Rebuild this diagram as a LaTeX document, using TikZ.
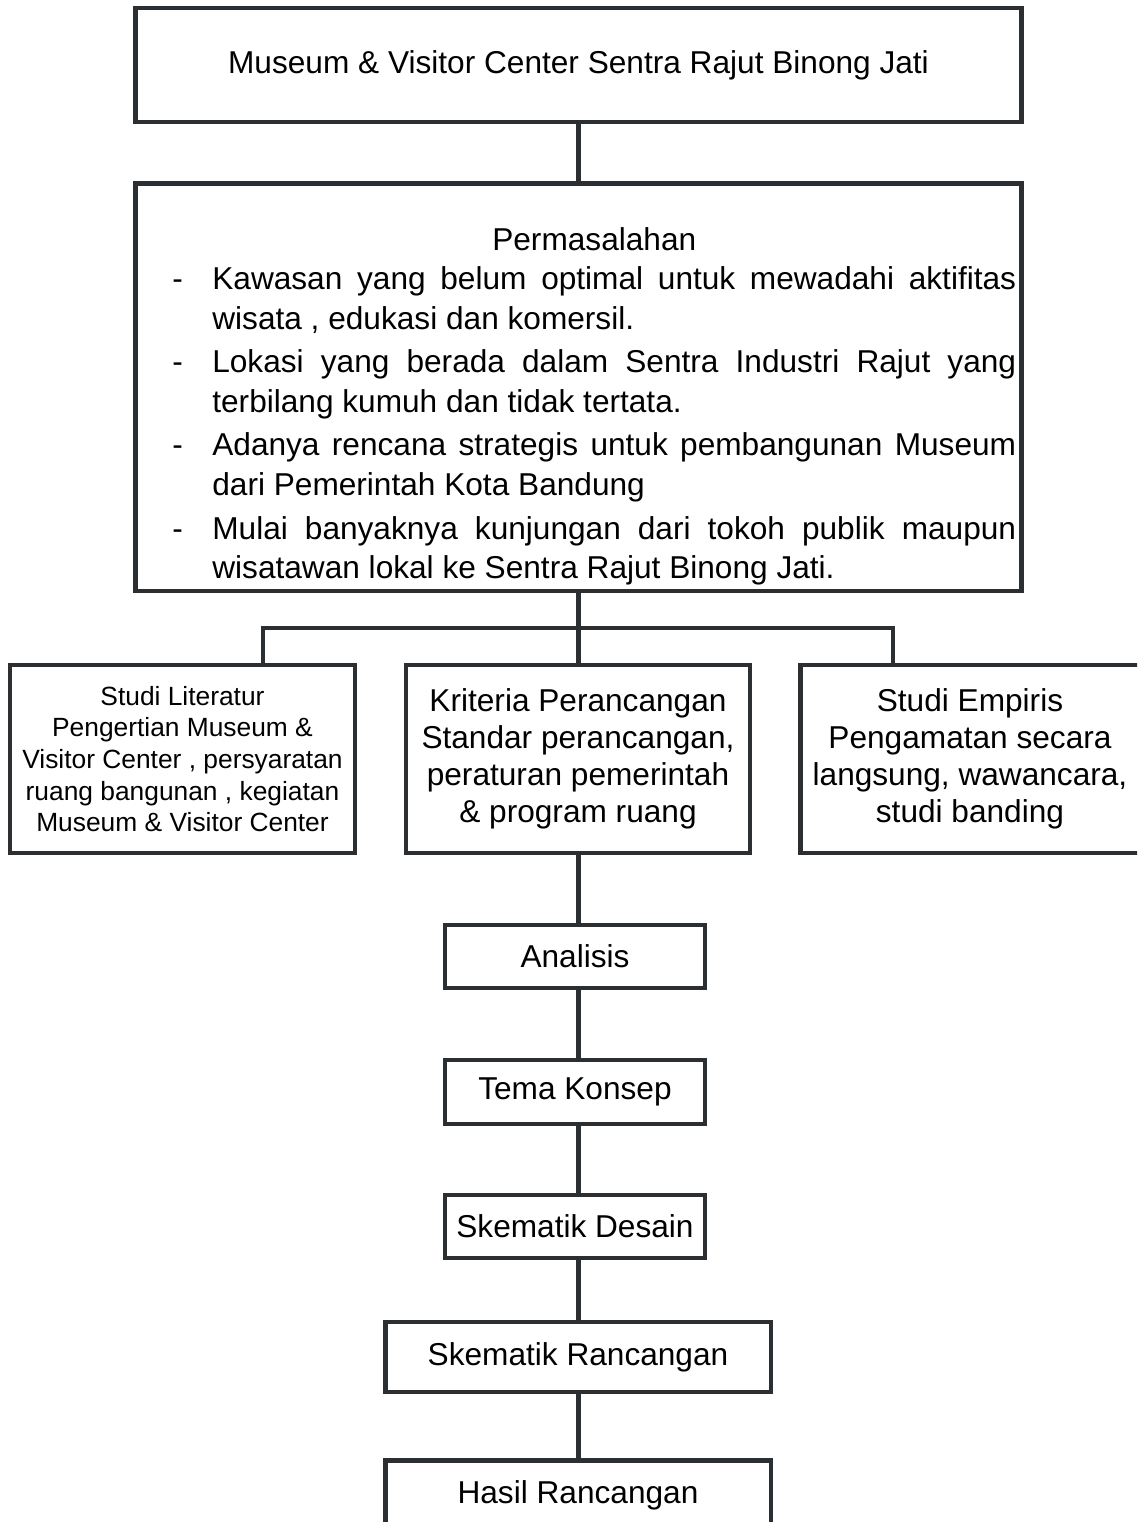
\documentclass[tikz,border=0pt]{standalone}
\usepackage{fontspec}
\setmainfont{Liberation Sans}
\definecolor{garis}{RGB}{43,47,50}
\tikzset{
    kotak/.style={draw=garis,line width=2.8pt,inner sep=0pt,font=\fontsize{18pt}{21pt}\selectfont},
    hubung/.style={draw=garis,line width=2.8pt},
}
\newcommand{\butir}{\par\hangindent=0.8cm\hangafter=1\noindent\makebox[0.8cm][l]{-}}

\begin{document}
\begin{tikzpicture}[x=0.02cm,y=-0.02cm]
                    \useasboundingbox (0,0) rectangle (1137,1522);
                    \clip (0,0) rectangle (1137,1522);
                    \node[kotak,minimum width=17.74cm,minimum height=2.28cm] (museum) at (578.5,65)
                        {Museum \& Visitor Center Sentra Rajut Binong Jati};
                    \node[kotak,minimum width=17.74cm,minimum height=8.16cm] (masalah) at (578.5,387) {};
                    \node[anchor=north west,inner sep=0pt,text width=16.88cm,align=justify,
                          font=\fontsize{18pt}{22.7pt}\selectfont] (masalahisi) at (172,227) {%
                        \setlength{\parindent}{0pt}\setlength{\parskip}{2pt}\hyphenpenalty=10000%
                        \centerline{Permasalahan}\vspace{-2.5pt}
                        \butir Kawasan yang belum optimal untuk mewadahi aktifitas wisata , edukasi dan komersil.
                        \butir Lokasi yang berada dalam Sentra Industri Rajut yang terbilang kumuh dan tidak tertata.
                        \butir Adanya rencana strategis untuk pembangunan Museum dari Pemerintah Kota Bandung
                        \butir Mulai banyaknya kunjungan dari tokoh publik maupun wisatawan lokal ke Sentra Rajut Binong Jati.\par};
                    \node[kotak,align=center,font=\fontsize{15pt}{18pt}\selectfont,
                          minimum width=6.9cm,minimum height=3.76cm] (literatur) at (182.5,759)
                        {Studi Literatur\\Pengertian Museum \&\\Visitor Center , persyaratan\\ruang bangunan , kegiatan\\Museum \& Visitor Center};
                    \node[kotak,align=center,minimum width=6.88cm,minimum height=3.76cm] (kriteria) at (578,759)
                        {Kriteria Perancangan\\Standar perancangan,\\peraturan pemerintah\\\& program ruang};
                    \node[kotak,align=center,minimum width=6.8cm,minimum height=3.76cm] (empiris) at (970,759)
                        {Studi Empiris\\Pengamatan secara\\langsung, wawancara,\\studi banding};
                    \node[kotak,minimum width=5.2cm,minimum height=1.26cm] (analisis) at (575,956.5) {Analisis};
                    \node[kotak,minimum width=5.2cm,minimum height=1.28cm] (tema) at (575,1092) {Tema Konsep};
                    \node[kotak,minimum width=5.2cm,minimum height=1.26cm] (desain) at (575,1226.5) {Skematik Desain};
                    \node[kotak,minimum width=7.72cm,minimum height=1.4cm] (rancangan) at (578,1357) {Skematik Rancangan};
                    \node[kotak,anchor=north,minimum width=7.72cm,text height=0.86cm,text depth=1.2cm] (hasil) at (578,1458)
                        {Hasil Rancangan};
                    \coordinate (cabangkiri) at (263,628);
                    \coordinate (cabangkanan) at (893,628);
                    \coordinate (tulang) at (578.5,0);
                    \draw[hubung] (museum.south) -- (masalah.north);
                    \draw[hubung] (masalah.south) -- (kriteria.north -| tulang);
                    \draw[hubung] (literatur.north -| cabangkiri) -- (cabangkiri) -- (cabangkanan) -- (empiris.north -| cabangkanan);
                    \draw[hubung] (kriteria.south -| tulang) -- (analisis.north -| tulang);
                    \draw[hubung] (analisis.south -| tulang) -- (tema.north -| tulang);
                    \draw[hubung] (tema.south -| tulang) -- (desain.north -| tulang);
                    \draw[hubung] (desain.south -| tulang) -- (rancangan.north -| tulang);
                    \draw[hubung] (rancangan.south -| tulang) -- (hasil.north -| tulang);
                \end{tikzpicture}
\end{document}
